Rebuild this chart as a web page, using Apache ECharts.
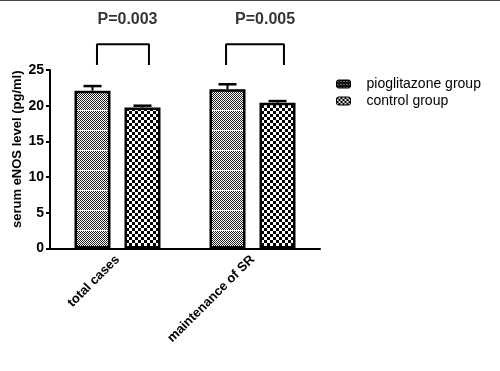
<!DOCTYPE html>
<html>
<head>
<meta charset="utf-8">
<script src="https://cdn.jsdelivr.net/npm/echarts@6/dist/echarts.min.js"></script>
<style>html,body{margin:0;padding:0;background:#fff}#c{width:500px;height:371px}</style>
</head>
<body>
<div id="c"></div>
<script>
// ---- data ----
const categories = ['total cases', 'maintenance of SR'];
const seriesNames = ['pioglitazone group', 'control group'];
const pioMean = [22.1, 22.3];
const pioErrTop = [22.75, 23.0];
const ctrlMean = [19.75, 20.4];
const ctrlErrTop = [20.0, 20.65];
const yTicks = [0, 5, 10, 15, 20, 25];
const pLabels = ['P=0.003', 'P=0.005'];
const pLabelX = [0.074, 1.093];
const pLabelY = [32.0, 32.0];
const bracketLeft = [-0.152, 0.804];
const bracketRight = [0.233, 1.233];
const bracketLow = [25.7, 25.7];
const bracketHigh = [28.6, 28.6];

// ---- patterns ----
function finePattern(bg, fg) {
  const c = document.createElement('canvas'); c.width = 2; c.height = 20;
  const g = c.getContext('2d');
  g.fillStyle = bg; g.fillRect(0, 0, 2, 20);
  g.fillStyle = fg;
  for (let y = 0; y < 20; y++) {
    if (y === 10) continue;
    g.fillRect(y % 2, y, 1, 1);
  }
  return c;
}
function checkPattern(bg, fg, s) {
  const c = document.createElement('canvas'); c.width = 2 * s; c.height = 2 * s;
  const g = c.getContext('2d');
  g.fillStyle = bg; g.fillRect(0, 0, 2 * s, 2 * s);
  g.fillStyle = fg;
  g.fillRect(0, 0, s, s); g.fillRect(s, s, s, s);
  return c;
}
function dotPattern() {
  const c = document.createElement('canvas'); c.width = 3; c.height = 3;
  const g = c.getContext('2d');
  g.fillStyle = '#111'; g.fillRect(0, 0, 3, 3);
  g.fillStyle = '#bbb'; g.fillRect(1, 1, 1, 1);
  return c;
}
const pioFill = { image: finePattern('#fff', '#222'), repeat: 'repeat' };
const ctrlFill = { image: checkPattern('#fff', '#000', 3), repeat: 'repeat' };
const pioIcon = { image: dotPattern(), repeat: 'repeat' };
const ctrlIcon = { image: checkPattern('#ddd', '#000', 2), repeat: 'repeat' };

const BAR_W = 36, BAR_GAP = 14;
const half = (BAR_W + BAR_GAP) / 2;

function errData(means, tops) { return means.map((m, i) => [i, m, tops[i]]); }
function errRender(offset) {
  return function (params, api) {
    const c = api.coord([api.value(0), api.value(1)]);
    const t = api.coord([api.value(0), api.value(2)]);
    const x = c[0] + offset;
    return {
      type: 'group',
      children: [
        { type: 'line', shape: { x1: x, y1: c[1], x2: x, y2: t[1] }, style: { stroke: '#000', lineWidth: 2 } },
        { type: 'line', shape: { x1: x - 9, y1: t[1], x2: x + 9, y2: t[1] }, style: { stroke: '#000', lineWidth: 2.5 } }
      ]
    };
  };
}

const bracketSeries = bracketLeft.map((l, i) => ({
  type: 'line', xAxisIndex: 1, clip: false, symbol: 'none', silent: true,
  lineStyle: { color: '#000', width: 2 },
  data: [[l, bracketLow[i]], [l, bracketHigh[i]], [bracketRight[i], bracketHigh[i]], [bracketRight[i], bracketLow[i]]]
}));

const chart = echarts.init(document.getElementById('c'));
chart.setOption({
  animation: false,
  backgroundColor: '#fff',
  graphic: [{ type: 'rect', shape: { x: 0, y: 0, width: 500, height: 1 }, style: { fill: '#444' } }],
  grid: { left: 50, right: 180, top: 70, bottom: 122.5, containLabel: false, outerBoundsMode: 'none' },
  legend: {
    data: [
      { name: seriesNames[0], itemStyle: { color: pioIcon, borderColor: '#000', borderWidth: 1 } },
      { name: seriesNames[1], itemStyle: { color: ctrlIcon, borderColor: '#000', borderWidth: 1 } }
    ],
    orient: 'vertical', left: 331, top: 72,
    itemWidth: 14, itemHeight: 8, itemGap: 3, icon: 'roundRect',
    textStyle: { fontFamily: 'Liberation Sans, Arial', fontSize: 14, color: '#000', padding: [0, 0, 0, 11], lineHeight: 14 }
  },
  xAxis: [{
    type: 'category', data: categories,
    axisLine: { lineStyle: { color: '#000', width: 2 } },
    axisTick: { alignWithLabel: true, length: 5, lineStyle: { color: '#000', width: 2 } },
    axisLabel: { rotate: 45, interval: 0, margin: 9, color: '#000', fontWeight: 'bold', fontSize: 13, fontFamily: 'Liberation Sans, Arial' }
  }, {
    type: 'value', min: -0.5, max: 1.5, show: false
  }],
  yAxis: {
    type: 'value', min: 0, max: 25, interval: 5,
    name: 'serum eNOS level (pg/ml)', nameLocation: 'middle', nameGap: 26, nameMoveOverlap: false,
    nameTextStyle: { color: '#000', fontWeight: 'bold', fontSize: 13, fontFamily: 'Liberation Sans, Arial', padding: [0, 0, 0, 20] },
    axisLine: { show: true, onZero: false, lineStyle: { color: '#000', width: 2 } },
    axisTick: { show: true, length: 4, lineStyle: { color: '#000', width: 2 } },
    axisLabel: { margin: 6, color: '#000', fontWeight: 'bold', fontSize: 14, fontFamily: 'Liberation Sans, Arial',
      formatter: v => yTicks.includes(v) ? String(v) : '' },
    splitLine: { show: false }
  },
  series: [
    { name: seriesNames[0], type: 'bar', data: pioMean, barWidth: BAR_W, barGap: (BAR_GAP / BAR_W * 100) + '%',
      itemStyle: { color: pioFill, borderColor: '#000', borderWidth: 2.5 } },
    { name: seriesNames[1], type: 'bar', data: ctrlMean, barWidth: BAR_W,
      itemStyle: { color: ctrlFill, borderColor: '#000', borderWidth: 2.5 } },
    { type: 'custom', data: errData(pioMean, pioErrTop), renderItem: errRender(-half), z: 3, silent: true },
    { type: 'custom', data: errData(ctrlMean, ctrlErrTop), renderItem: errRender(half), z: 3, silent: true },
    ...bracketSeries,
    { type: 'scatter', xAxisIndex: 1, clip: false, symbolSize: 1, silent: true,
      itemStyle: { color: 'rgba(0,0,0,0)' },
      data: pLabels.map((p, i) => ({ name: p, value: [pLabelX[i], pLabelY[i]] })),
      label: { show: true, position: 'inside', formatter: p => p.name, color: '#000', fontWeight: 'bold', fontSize: 16, fontFamily: 'Liberation Sans, Arial' } }
  ]
});
</script>
</body>
</html>
